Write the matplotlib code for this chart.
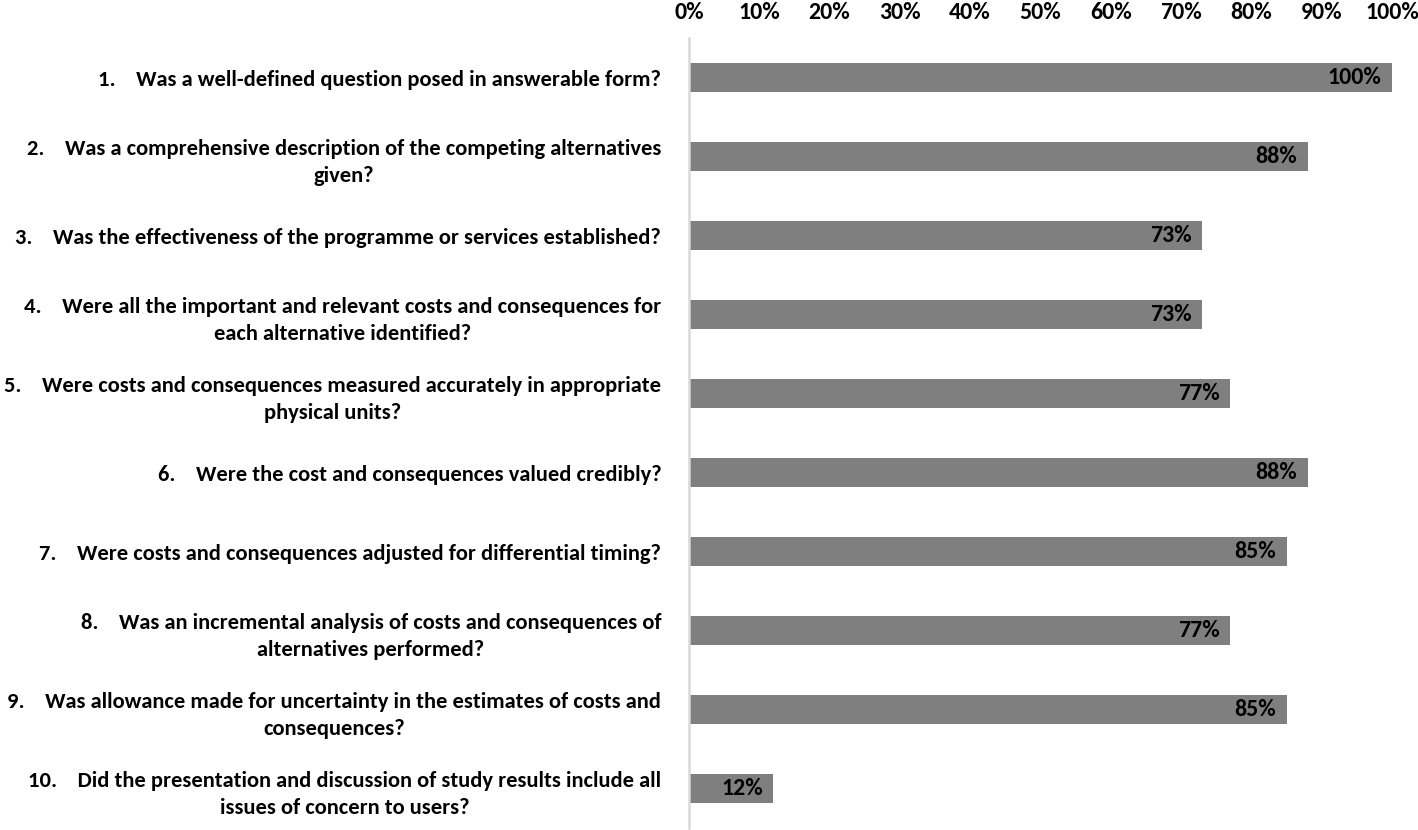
import matplotlib.pyplot as plt
from matplotlib import font_manager

# data
questions = [
    "1.    Was a well-defined question posed in answerable form?",
    "2.    Was a comprehensive description of the competing alternatives\ngiven?",
    "3.    Was the effectiveness of the programme or services established?",
    "4.    Were all the important and relevant costs and consequences for\neach alternative identified?",
    "5.    Were costs and consequences measured accurately in appropriate\nphysical units?",
    "6.    Were the cost and consequences valued credibly?",
    "7.    Were costs and consequences adjusted for differential timing?",
    "8.    Was an incremental analysis of costs and consequences of\nalternatives performed?",
    "9.    Was allowance made for uncertainty in the estimates of costs and\nconsequences?",
    "10.    Did the presentation and discussion of study results include all\nissues of concern to users?",
]
percent = [100, 88, 73, 73, 77, 88, 85, 77, 85, 12]
ticks = [0, 10, 20, 30, 40, 50, 60, 70, 80, 90, 100]

# pick a narrow-ish font close to Calibri
names = {f.name for f in font_manager.fontManager.ttflist}
fam = 'DejaVu Sans'
for cand in ['Carlito', 'Liberation Sans Narrow', 'Lato', 'Open Sans', 'Roboto']:
    if cand in names:
        fam = cand
        break
plt.rcParams['font.family'] = [fam, 'DejaVu Sans']
wt = 'bold'

fig = plt.figure(figsize=(14.18, 8.3), dpi=100)

# size the font so the widest line is about as wide as in the reference
renderer = fig.canvas.get_renderer()
probe = fig.text(0, 0, "Were costs and consequences measured accurately in appropriate",
                 fontsize=14, fontweight=wt)
w = probe.get_window_extent(renderer).width
probe.remove()
fs = 14 * 620 / w

ax = fig.add_axes([689 / 1418, 2 / 830, (1392 - 689) / 1418, 790 / 830])

ypos = list(range(len(percent)))
ax.barh(ypos, percent, height=0.36, color='#7f7f7f')
for y, v in zip(ypos, percent):
    ax.text(v - 1.5, y, f"{v}%", ha='right', va='center', fontsize=fs + 1,
            fontweight=wt, color='black')

ax.set_ylim(len(percent) - 0.5, -0.5)
ax.set_xlim(0, 100)
ax.set_yticks(ypos)
ax.set_yticklabels(questions, fontsize=fs, fontweight=wt,
                   multialignment='center', linespacing=1.45)
ax.set_xticks(ticks)
ax.set_xticklabels([f"{t}%" for t in ticks], fontsize=fs + 1, fontweight=wt)
ax.xaxis.tick_top()
ax.tick_params(axis='x', length=0, pad=11)
ax.tick_params(axis='y', length=0, pad=20)

for s in ['top', 'right', 'bottom']:
    ax.spines[s].set_visible(False)
ax.spines['left'].set_color('#d9d9d9')
ax.spines['left'].set_linewidth(1.8)

fig.savefig('out.png', dpi=100)
